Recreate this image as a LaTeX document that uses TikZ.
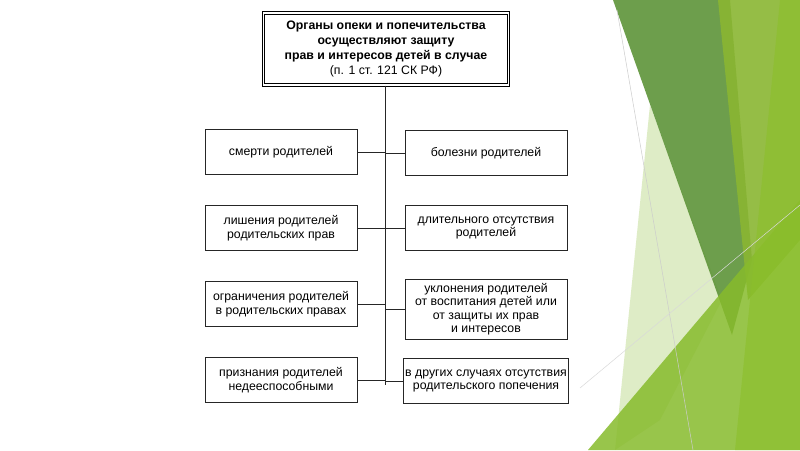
\documentclass[tikz,border=0pt]{standalone}
\usepackage{fontspec}
\setmainfont{Liberation Sans}
\usetikzlibrary{positioning}
\definecolor{darkleaf}{HTML}{5E9439}
\definecolor{oliveleaf}{HTML}{8AB632}
\definecolor{brightleaf}{HTML}{8CBF2A}
\definecolor{paleleaf}{HTML}{D6E8B8}
\tikzset{
  casebox/.style={draw=black!85,line width=0.6pt,align=center,inner sep=2pt,
                  font=\fontsize{12.3}{13.5}\selectfont},
  leftbox/.style={casebox,minimum width=152pt,minimum height=45pt},
  rightbox/.style={casebox,minimum width=162pt,minimum height=45pt},
  headbox/.style={draw=black,double,double distance=1.5pt,line width=1pt,align=center,
                  minimum width=245pt,minimum height=72pt,font=\fontsize{12.3}{15}\selectfont},
  link/.style={draw=black!85,line width=0.6pt}
}
\begin{document}
\begin{tikzpicture}[x=1pt,y=-1pt]
  \useasboundingbox (0,0) rectangle (800,450);
  \fill[white] (0,0) rectangle (800,450);
  % background leaves
  \fill[paleleaf,opacity=0.8] (650,105) -- (722,300) -- (660,420) -- (615,450) -- cycle;
  \fill[darkleaf,opacity=0.9] (613,0) -- (730,0) -- (752,260) -- (732,335) -- cycle;
  \fill[oliveleaf,opacity=0.9] (718,0) -- (800,0) -- (800,240) -- (748,300) -- cycle;
  \fill[brightleaf!90!darkleaf,opacity=0.85] (588,450) -- (800,200) -- (800,450) -- cycle;
  \fill[brightleaf,opacity=0.6] (780,0) -- (800,0) -- (800,450) -- (735,450) -- cycle;
  \draw[black!20,line width=0.5pt] (617,10) -- (693,450);
  \draw[black!15,line width=0.5pt] (580,388) -- (800,205);
  % chart
  \node[headbox] (head) at (386,49) {\textbf{Органы опеки и попечительства}\\
    \textbf{осуществляют защиту}\\ \textbf{прав и интересов детей в случае}\\ (п. 1 ст. 121 СК РФ)};
  \coordinate (trunk) at (385,385);
  \node[leftbox]  (death)   at (281,152) {смерти родителей};
  \node[rightbox] (illness) at (486,153) {болезни родителей};
  \node[leftbox]  (deprive) at (281,228) {лишения родителей\\родительских прав};
  \node[rightbox] (absence) at (486,228) {длительного отсутствия\\родителей};
  \node[leftbox]  (restrict) at (281,304) {ограничения родителей\\в родительских правах};
  \node[rightbox,minimum height=60pt] (evade) at (486,309) {уклонения родителей\\от воспитания детей или\\от защиты их прав\\и интересов};
  \node[leftbox]  (incap)   at (281,380) {признания родителей\\недееспособными};
  \node[rightbox] (other)   at (486,381) {в других случаях отсутствия\\родительского попечения};
  \draw[link] (head.south -| trunk) -- (trunk);
  \foreach \b in {death,deprive,restrict,incap}
    \draw[link] (\b.east) -- (\b.east -| trunk);
  \foreach \b in {illness,absence,evade,other}
    \draw[link] (\b.west) -- (\b.west -| trunk);
\end{tikzpicture}
\end{document}
